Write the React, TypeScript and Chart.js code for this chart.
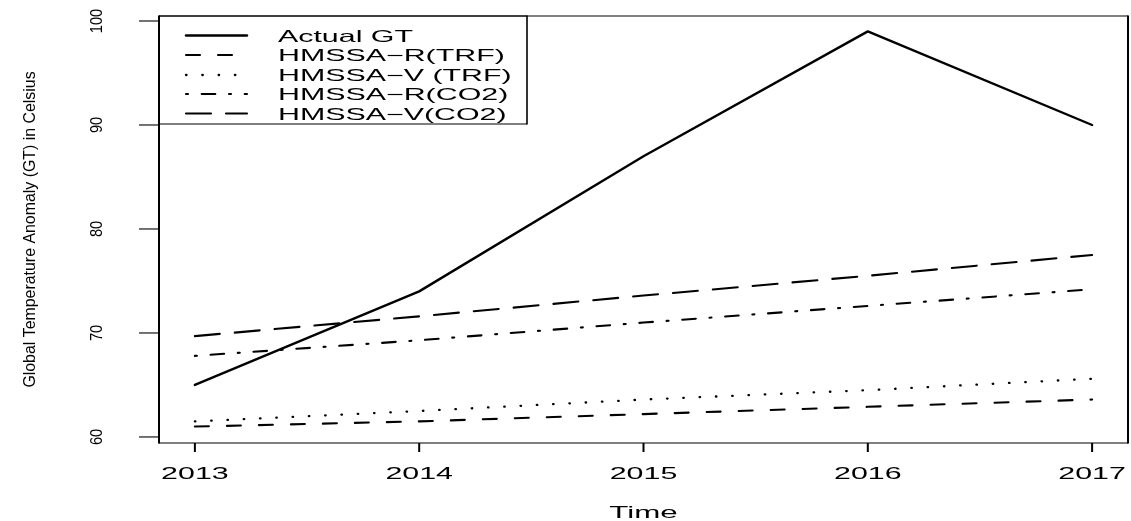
import React, { useEffect, useRef } from "react";
import { Chart, registerables } from "chart.js";

Chart.register(...registerables);

// ---- data ----
const years = [2013, 2014, 2015, 2016, 2017];
const actualGT = [65, 74, 87, 99, 90];
const hmssaRTrf = [61.0, 61.5, 62.2, 62.9, 63.6];
const hmssaVTrf = [61.5, 62.5, 63.6, 64.5, 65.6];
const hmssaRCo2 = [67.8, 69.3, 71.0, 72.6, 74.2];
const hmssaVCo2 = [69.7, 71.6, 73.6, 75.5, 77.5];
const yTicks = [60, 70, 80, 90, 100];
const xTicks = [2013, 2014, 2015, 2016, 2017];
const seriesNames = [
  "Actual GT",
  "HMSSA\u2212R(TRF)",
  "HMSSA\u2212V (TRF)",
  "HMSSA\u2212R(CO2)",
  "HMSSA\u2212V(CO2)",
];
const xTitle = "Time";
const yTitle = "Global Temperature Anomaly (GT) in Celsius";

// ---- styles ----
const FONT = '"Liberation Sans", Arial, Helvetica, sans-serif';
const SX = 1.84; // horizontal stretch of horizontal text
const dashes: number[][] = [[], [14, 18], [0.5, 15.8], [2, 13.7, 13.6, 13.7], [25, 15]];
const widths = [2.4, 2.1, 2.3, 2.1, 2.1];

function seg(ctx: CanvasRenderingContext2D, x1: number, y1: number, x2: number, y2: number, w: number) {
  ctx.lineWidth = w;
  ctx.beginPath();
  ctx.moveTo(x1, y1);
  ctx.lineTo(x2, y2);
  ctx.stroke();
}

function hText(ctx: CanvasRenderingContext2D, s: string, x: number, y: number, align: CanvasTextAlign, size: number) {
  ctx.save();
  ctx.font = `${size}px ${FONT}`;
  ctx.textAlign = align;
  ctx.textBaseline = "alphabetic";
  ctx.translate(x, y);
  ctx.scale(SX, 1);
  ctx.fillText(s, 0, 0);
  ctx.restore();
}

function vText(ctx: CanvasRenderingContext2D, s: string, x: number, y: number, size: number, k: number) {
  ctx.save();
  ctx.font = `${size}px ${FONT}`;
  ctx.textAlign = "center";
  ctx.textBaseline = "alphabetic";
  ctx.translate(x, y);
  ctx.rotate(-Math.PI / 2);
  ctx.scale(k, 1);
  ctx.fillText(s, 0, 0);
  ctx.restore();
}

const framePlugin = {
  id: "rframe",
  afterDraw(chart: any) {
    const ctx: CanvasRenderingContext2D = chart.ctx;
    const { left, right, top, bottom } = chart.chartArea;
    const xs = chart.scales.x;
    const ys = chart.scales.y;
    ctx.save();
    ctx.strokeStyle = "#000";
    ctx.fillStyle = "#000";
    ctx.setLineDash([]);
    ctx.lineCap = "butt";

    // plot box
    seg(ctx, left, top, right, top, 1.2);
    seg(ctx, left, bottom, right, bottom, 1.2);
    seg(ctx, left, top - 0.6, left, bottom + 0.6, 2);
    seg(ctx, right, top - 0.6, right, bottom + 0.6, 2);

    // x ticks + labels
    xTicks.forEach((t) => {
      const px = xs.getPixelForValue(t);
      seg(ctx, px, bottom, px, bottom + 9, 2);
      hText(ctx, String(t), px, bottom + 36, "center", 16.5);
    });
    hText(ctx, xTitle, (left + right) / 2, bottom + 75, "center", 17);

    // y ticks + labels
    yTicks.forEach((t) => {
      const py = ys.getPixelForValue(t);
      seg(ctx, left - 20, py, left, py, 1.1);
      vText(ctx, String(t), left - 57, py, 17, 0.86);
    });
    vText(ctx, yTitle, 34.6, (top + bottom) / 2, 17, 0.935);

    // legend
    const lx = left;
    const ly = top;
    const lw = 368;
    const lh = 108;
    seg(ctx, lx, ly, lx + lw, ly, 1);
    seg(ctx, lx, ly + lh, lx + lw, ly + lh, 1);
    seg(ctx, lx + lw, ly - 0.5, lx + lw, ly + lh + 0.5, 1.6);
    const rowY = [19.5, 39, 59, 78, 97.5];
    seriesNames.forEach((name, i) => {
      const y = ly + rowY[i];
      ctx.save();
      ctx.lineCap = "round";
      ctx.setLineDash(dashes[i]);
      seg(ctx, lx + 27, y, lx + 88, y, widths[i]);
      ctx.restore();
      hText(ctx, name, lx + 119, y + 6.3, "left", 16.5);
    });
    ctx.restore();
  },
};

export default function App() {
  const ref = useRef<HTMLCanvasElement | null>(null);
  useEffect(() => {
    document.body.style.margin = "0";
    const canvas = ref.current;
    if (!canvas) return;
    const all = [actualGT, hmssaRTrf, hmssaVTrf, hmssaRCo2, hmssaVCo2];
    const chart = new Chart(canvas, {
      type: "line",
      data: {
        datasets: all.map((vals, i) => ({
          label: seriesNames[i],
          data: years.map((yr, j) => ({ x: yr, y: vals[j] })),
          borderColor: "#000",
          backgroundColor: "#000",
          borderWidth: widths[i],
          borderDash: dashes[i],
          borderCapStyle: "round",
          borderJoinStyle: "round",
          pointRadius: 0,
          fill: false,
          tension: 0,
        })),
      },
      options: {
        animation: false,
        responsive: false,
        devicePixelRatio: 1,
        layout: { padding: { left: 159, right: 3, top: 16, bottom: 78 } },
        plugins: { legend: { display: false }, tooltip: { enabled: false } },
        scales: {
          x: { type: "linear", min: 2012.84, max: 2017.16, display: false },
          y: { type: "linear", min: 59.42, max: 100.48, display: false },
        },
      },
      plugins: [framePlugin],
    } as any);
    return () => chart.destroy();
  }, []);
  return (
    <canvas
      ref={ref}
      width={1131}
      height={521}
      style={{ display: "block", width: "1131px", height: "521px" }}
    />
  );
}
